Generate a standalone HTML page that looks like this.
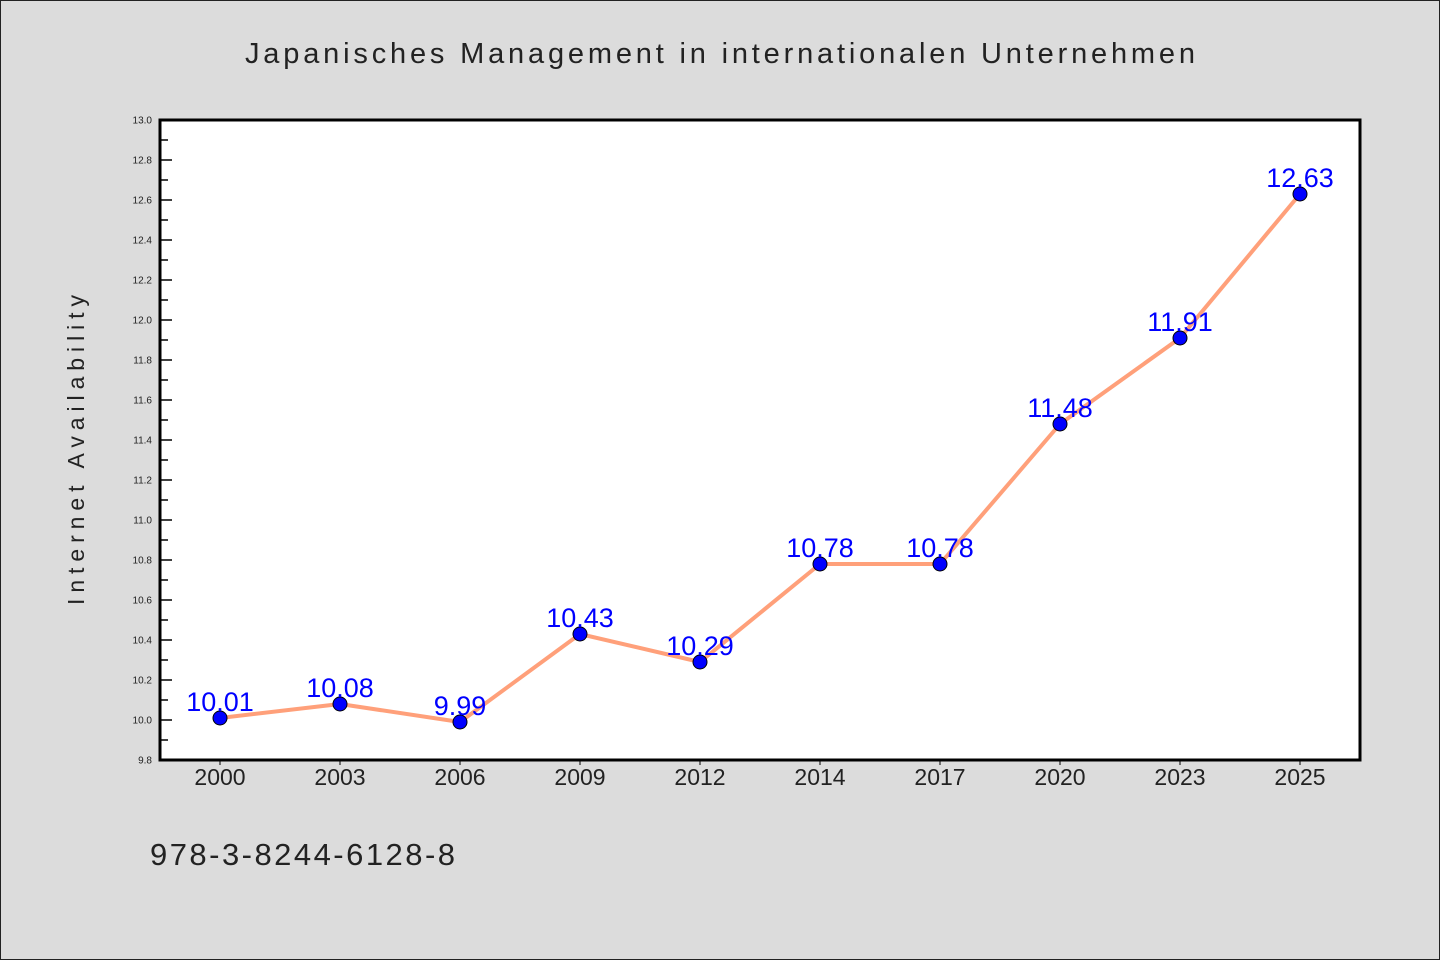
<!DOCTYPE html>
<html><head><meta charset="utf-8">
<style>
html,body{margin:0;padding:0;background:#dcdcdc;}
svg{display:block;font-family:"WenQuanYi Zen Hei","Liberation Sans",sans-serif;}
</style></head>
<body>
<svg id="chart" width="1440" height="960" xmlns="http://www.w3.org/2000/svg">
<rect x="0.5" y="0.5" width="1439" height="959" fill="#dcdcdc" stroke="#222" stroke-width="1"/>
<text x="245" y="63" font-size="29" fill="#222" textLength="950" lengthAdjust="spacing">Japanisches Management in internationalen Unternehmen</text>
<rect x="160" y="120" width="1200" height="640" fill="#fff"/>
<g id="axes"></g>
<g id="series"></g>
<rect x="160" y="120" width="1200" height="640" fill="none" stroke="#000" stroke-width="3"/>
<text transform="translate(84,450) rotate(-90)" text-anchor="middle" font-size="23" fill="#222" textLength="310" lengthAdjust="spacing">Internet Availability</text>
<text x="150" y="865" font-size="31" fill="#222" textLength="305" lengthAdjust="spacing">978-3-8244-6128-8</text>
</svg>
<script>
const categories = ["2000","2003","2006","2009","2012","2014","2017","2020","2023","2025"];
const values = [10.01,10.08,9.99,10.43,10.29,10.78,10.78,11.48,11.91,12.63];
const valueLabels = ["10.01","10.08","9.99","10.43","10.29","10.78","10.78","11.48","11.91","12.63"];
const yTicks = ["9.8","10.0","10.2","10.4","10.6","10.8","11.0","11.2","11.4","11.6","11.8","12.0","12.2","12.4","12.6","12.8","13.0"];

const NS="http://www.w3.org/2000/svg";
const L=160,R=1360,T=120,B=760,yMin=9.8,yMax=13.0;
const x=i=>L+(R-L)/categories.length*(i+0.5);
const y=v=>B-(v-yMin)/(yMax-yMin)*(B-T);
function mk(tag,attrs,parent){const e=document.createElementNS(NS,tag);for(const k in attrs)e.setAttribute(k,attrs[k]);parent.appendChild(e);return e;}
const axes=document.getElementById('axes'),series=document.getElementById('series');

yTicks.forEach((t,i)=>{
  const v=parseFloat(t),yy=y(v);
  const tk=mk('line',{x1:L,x2:L+12,y1:yy,y2:yy,stroke:'#000','stroke-width':1.5},axes);
  
  
  const lb=mk('text',{x:L-8,y:yy+3.5,'text-anchor':'end','font-size':10,fill:'#222'},axes);
  lb.textContent=t;
  
  
  if(i<yTicks.length-1){
    const ym=y(v+0.1);
    const mn=mk('line',{x1:L,x2:L+8,y1:ym,y2:ym,stroke:'#000','stroke-width':1.5},axes);
    
    
  }
});
categories.forEach((c,i)=>{
  const xx=x(i);
  const tk=mk('line',{x1:xx,x2:xx,y1:B,y2:B+5,stroke:'#000','stroke-width':1},axes);
  
  
  const lb=mk('text',{x:xx,y:B+25,'text-anchor':'middle','font-size':23,fill:'#222'},axes);
  lb.textContent=c;
  
  
});
const pts=values.map((v,i)=>x(i)+','+y(v)).join(' ');
const line=mk('polyline',{points:pts,fill:'none',stroke:'#ffa07a','stroke-width':4,'stroke-linejoin':'round'},series);


values.forEach((v,i)=>{
  const c=mk('circle',{cx:x(i),cy:y(v),r:7,fill:'#0000ff',stroke:'#000','stroke-width':1},series);
  
  
});
values.forEach((v,i)=>{
  const t=mk('text',{x:x(i),y:y(v)-7,'text-anchor':'middle','font-size':27,fill:'#0000ff'},series);
  t.textContent=valueLabels[i];
  
  
});
</script>
</body></html>
